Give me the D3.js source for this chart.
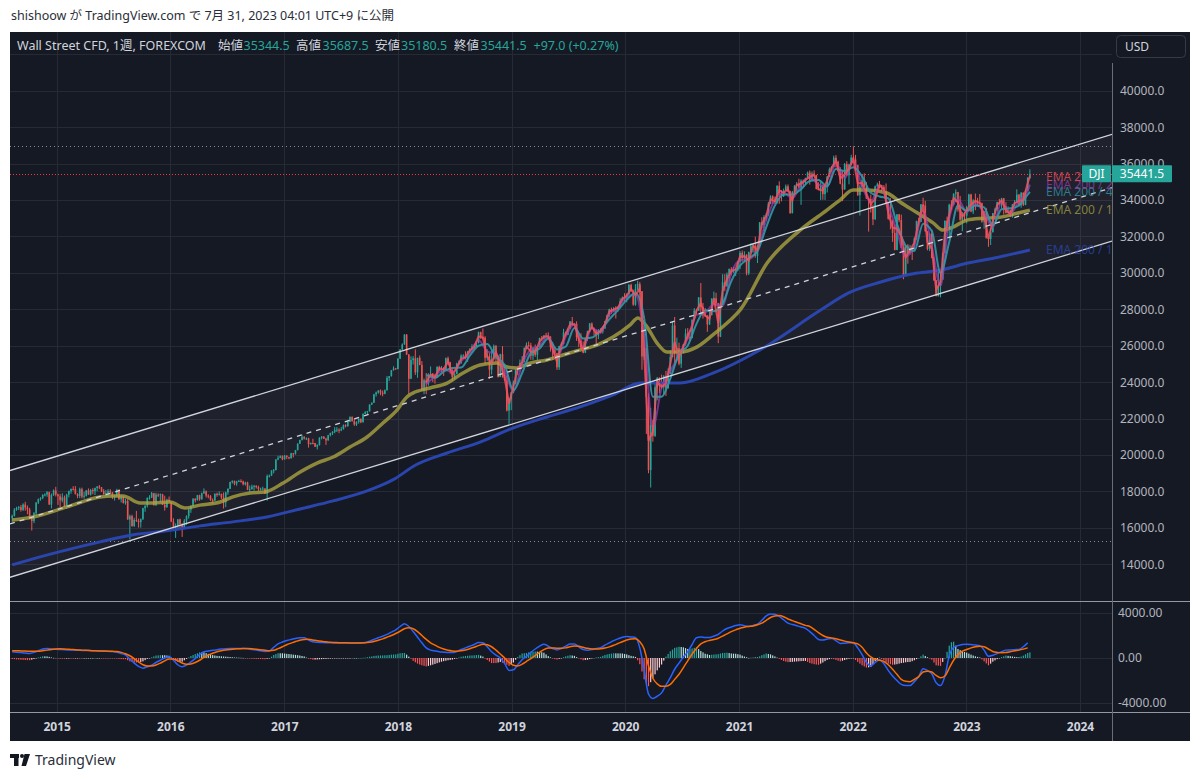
<!DOCTYPE html>
<html>
<head>
<meta charset="utf-8">
<title>Wall Street CFD 1週</title>
<script src="https://cdn.jsdelivr.net/npm/d3@7/dist/d3.min.js"></script>
<style>
  html, body { margin: 0; padding: 0; background: #ffffff; }
  svg { display: block; }
</style>
</head>
<body>
<svg id="chart" width="1200" height="779"></svg>
<script>
// ---- 週足 終値 (1本目 = 2014-08-11 の週) ----
const firstOpen = 16550;
const close2014 = [16663,17001,17098,17137,16988,17280,17113,17009,16544,16380,16805,17391,17573,17634,17810,17828,17959,17281,17805,18053,17833];
const close2015 = [17737,17511,17672,17165,17824,18019,18140,18133,17856,17749,18128,17713,17763,18057,17826,18080,18024,18191,18272,18232,18011,17849,17898,18015,17947,17730,17760,18086,17568,17690,17373,17477,16460,16643,16102,16433,16385,16315,16472,17084,17216,17647,17664,17910,17245,17824,17798,17848,17265,17128,17553,17425];
const close2016 = [16346,15988,16094,16466,16205,15974,16392,16640,17006,17213,17602,17516,17793,17577,17898,18004,17774,17740,17535,17501,17873,17807,17865,17675,17400,17949,18147,18517,18571,18432,18543,18577,18553,18395,18492,18085,18124,18262,18308,18240,18138,18146,18161,17888,18848,18868,19153,19171,19757,19843,19934,19763];
const close2017 = [19964,19886,19827,20094,20071,20269,20624,20822,21006,20903,20915,20597,20663,20656,20453,20548,20941,21007,20897,20805,21080,21206,21272,21384,21395,21350,21414,21638,21580,21830,22092,21858,21675,21814,21988,21798,22268,22350,22405,22774,22871,23329,23434,23539,23422,23358,23558,24232,24329,24651,24754,24719];
const close2018 = [25296,25803,26072,26617,25521,24191,25219,25310,24538,25336,24947,23533,24103,23933,24360,24463,24311,24263,24831,24715,24753,24635,25317,25090,24581,24271,24456,25019,25058,25451,25463,25313,25669,25790,25965,25917,26155,26744,26458,26447,25340,25444,24688,25271,25989,25413,24286,25538,24389,24101,22445,23062,23433];
const close2019 = [23996,24706,24737,25064,25106,25883,26031,26026,25450,25849,25502,25929,26425,26412,26559,26543,26505,25942,25764,25586,24815,25984,26090,26719,26600,26922,27332,27154,27192,26485,26287,25886,25629,26403,26797,27220,26935,26820,26573,26817,26770,26958,27347,27681,28005,27876,28051,28015,28135,28455,28645,28634];
const close2020 = [28823,29348,28990,28256,29103,29398,28992,25409,25864,23185,19174,21636,21053,23719,24242,23775,23724,24331,23685,24465,25383,27111,25606,25871,25016,25827,26075,26672,26470,26428,27433,27931,27930,28654,28133,27666,27657,27174,27683,28587,28606,28336,26502,28323,29480,29263,29910,30218,30046,30179,30200,30606];
const close2021 = [31098,30814,30997,29983,31148,31458,31494,30932,31496,32779,32628,33073,33153,33801,34200,34043,33875,34778,34382,34208,34529,34756,34480,33290,34433,34786,34870,34687,35062,34935,35208,35515,35120,35455,35369,34607,34584,34798,34326,34746,35295,35677,35820,36328,36100,35602,34899,34580,35971,35365,35950,36338];
const close2022 = [36231,35912,34265,34725,35089,34738,34079,34059,33615,32944,34755,34861,34818,34721,34451,33811,32977,32899,32197,31262,33213,32900,31393,29888,31501,31097,31338,31288,31899,32845,32803,33761,33706,32283,31318,32151,30822,29590,28726,29297,29635,31082,32861,32403,33748,33746,34347,34430,33477,32920,33204,33147];
const close2023 = [33631,34303,33375,33978,33926,33869,33827,32817,33391,31910,31862,32238,33274,33485,33886,33809,34098,33674,33300,33427,33093,33762,33877,34299,33727,34408,33734,34509,35228,35441.5];

// 上ヒゲ (実体上端から高値まで)
const up2014 = [60,80,60,60,120,70,150,120,90,80,60,20,40,50,40,70,60,30,80,60,200];
const up2015 = [50,130,228,100,50,30,20,150,160,50,80,80,220,20,110,60,100,20,20,80,10,120,180,110,110,20,60,60,40,100,50,130,100,80,80,120,500,120,40,20,20,20,130,60,10,100,70,40,20,500,50,170];
const up2016 = [10,180,150,20,40,50,90,50,50,20,20,20,20,30,40,160,50,70,60,80,20,60,140,20,270,30,20,20,40,30,40,60,90,40,40,40,200,110,50,30,80,60,100,20,80,60,10,60,10,120,50,50];
const up2017 = [40,20,20,30,20,10,20,20,110,20,50,30,20,230,10,40,40,30,30,50,30,20,40,150,140,70,130,40,50,100,30,30,160,40,30,20,10,60,20,10,20,30,50,20,60,120,40,100,10,20,120,30];
const up2018 = [10,10,60,10,20,20,200,120,490,10,130,210,100,400,130,400,40,150,50,70,130,70,40,90,20,130,30,50,140,80,70,230,50,80,120,90,60,30,30,490,80,360,150,500,80,50,60,20,440,450,250,80,40];
const up2019 = [90,20,90,180,330,20,150,200,130,90,220,20,20,110,20,150,190,10,250,170,20,20,100,210,60,30,30,250,30,150,30,400,350,20,30,30,60,70,80,100,140,70,20,20,30,90,70,120,40,150,60,240];
const up2020 = [50,30,60,80,280,170,100,10,1238,40,200,960,300,190,40,20,640,60,290,300,370,240,469,570,300,20,20,270,300,200,10,140,80,20,790,220,410,20,200,20,370,300,20,40,450,450,110,20,100,150,70,30];
const up2021 = [95,130,190,30,20,180,140,500,30,10,270,100,120,100,60,60,150,40,250,160,100,100,100,30,70,30,120,300,80,70,20,50,110,120,180,20,370,220,40,70,30,110,50,110,140,60,200,720,60,160,50,150];
const up2022 = [614,250,20,120,300,380,250,20,240,150,40,100,190,20,100,460,100,1140,10,460,20,20,300,20,20,80,200,70,50,20,170,20,370,250,10,20,230,30,20,780,465,20,20,230,50,240,20,160,20,750,140,130];
const up2023 = [50,40,40,70,380,200,460,30,20,180,80,200,20,90,20,180,20,20,210,220,50,20,130,290,30,20,10,80,20,246];

// 下ヒゲ (実体下端から安値まで)
const dn2014 = [220,40,60,120,100,60,170,260,10,525,120,150,80,80,60,80,120,20,213,50,110];
const dn2015 = [475,375,111,29,130,150,140,80,20,120,120,100,110,40,10,50,180,220,180,100,40,30,120,120,60,150,230,50,20,170,40,100,10,1090,40,50,60,300,300,30,200,100,100,30,20,40,110,400,10,180,20,20];
const dn2016 = [30,40,538,150,280,470,20,230,130,180,40,120,10,90,40,30,110,120,50,170,30,100,30,100,337,260,130,20,80,90,120,20,70,60,70,10,120,20,220,80,120,100,80,20,390,80,10,160,10,40,10,50];
const dn2017 = [20,110,60,30,200,50,10,10,20,50,80,190,20,70,10,150,30,80,20,250,20,60,110,80,120,150,40,10,60,20,10,20,70,80,90,50,10,20,100,20,30,10,120,70,140,130,20,20,170,20,10,30];
const dn2018 = [10,30,50,20,30,831,20,250,140,300,20,20,190,590,120,10,300,340,30,100,150,290,20,160,120,190,90,20,80,60,140,60,200,70,50,140,20,30,80,110,340,160,510,270,20,300,30,10,140,10,50,733,600];
const dn2019 = [40,120,320,110,170,30,70,100,220,230,110,290,20,140,60,40,100,260,540,130,140,140,20,20,70,10,20,30,30,220,360,50,20,30,140,10,20,250,500,210,100,100,40,20,100,120,20,520,140,20,20,190];
const dn2020 = [250,20,20,60,60,70,30,728,183,2030,174,960,320,60,720,380,100,380,440,50,20,20,550,460,90,230,250,70,130,160,20,20,210,20,440,170,30,410,30,10,200,150,360,30,80,270,20,380,180,40,350,100];
const dn2021 = [400,200,190,120,100,20,340,100,390,100,170,330,230,20,20,250,90,70,590,280,40,30,50,50,30,40,360,40,950,240,50,20,270,30,100,20,20,580,310,320,330,20,120,20,310,20,30,640,20,30,500,20];
const dn2022 = [20,300,30,1115,100,20,20,1790,300,320,30,40,180,250,30,20,50,500,490,20,10,110,20,235,20,590,90,580,20,90,150,20,60,10,80,120,20,20,10,20,637,10,10,200,440,290,30,450,120,60,630,280];
const dn2023 = [430,20,40,140,480,200,60,60,390,20,430,330,20,50,80,110,280,470,30,40,20,60,90,20,30,150,60,20,20,50];

// ---- EMA 200 / 1日 (黄) と EMA 200 / 1週 (青): 読み取り点 ----
const yellowDates = ["2014-08-11","2014-10-17","2015-02-03","2015-05-20","2015-07-01","2015-08-02","2015-09-26","2015-11-06","2015-12-31","2016-02-17","2016-04-05","2016-06-09","2016-07-20","2016-09-13","2016-10-31","2016-12-28","2017-02-21","2017-04-16","2017-06-07","2017-07-31","2017-09-24","2017-11-14","2017-12-29","2018-01-30","2018-02-18","2018-04-14","2018-06-08","2018-07-29","2018-09-22","2018-11-15","2018-12-18","2019-01-18","2019-03-01","2019-04-25","2019-06-15","2019-08-09","2019-10-02","2019-11-23","2020-01-17","2020-02-11","2020-03-11","2020-04-12","2020-05-14","2020-06-25","2020-08-19","2020-10-09","2020-12-03","2021-01-04","2021-04-01","2021-07-16","2021-10-10","2021-11-21","2022-01-02","2022-02-16","2022-04-21","2022-06-02","2022-07-27","2022-09-16","2022-10-18","2022-11-19","2023-01-03","2023-02-24","2023-04-19","2023-06-13","2023-07-24"];
const yellowVals = [16430,16600,17150,17700,17750,17750,17370,17370,17420,17090,17250,17420,17700,17910,17970,18460,19070,19560,19890,20440,20990,21760,22470,23190,23400,23680,23950,24500,24940,25050,24830,24780,25050,25220,25490,25770,26040,26480,27150,27530,27040,26160,25660,25660,25940,26600,27400,27960,30540,32350,33450,34000,34550,34550,34390,33890,33300,32750,32350,32520,32900,33000,33060,33280,33450];
const blueDates = ["2014-08-11","2014-10-17","2015-02-03","2015-05-20","2015-09-04","2015-12-22","2016-04-05","2016-07-20","2016-11-06","2017-02-21","2017-06-07","2017-09-24","2017-11-04","2017-12-17","2018-02-27","2018-06-08","2018-09-22","2019-01-05","2019-04-25","2019-08-09","2019-11-23","2020-02-19","2020-06-25","2020-10-09","2021-03-09","2021-09-20","2021-12-17","2022-04-01","2022-07-27","2022-10-11","2023-01-06","2023-04-01","2023-07-24"];
const blueVals = [13970,14300,14790,15230,15620,15840,16110,16330,16600,17040,17480,18030,18300,18650,19450,20110,20710,21480,22090,22640,23300,23960,23960,24500,25770,27960,28890,29500,29990,30160,30540,30820,31260];

// ---- 短期 EMA (2018-04 以降): 赤 = 2週ごと, 紫/青緑 = 4週ごと, 最後は最新週 ----
const redVals = [24000,24420,24280,24760,24680,25180,24400,24790,25290,25370,
  25740,25940,26510,26450,25400,25040,25640,25040,24220,22820,
  23770,24730,25090,25970,25680,25640,26230,26500,26520,25840,
  25120,26050,26650,27170,27180,26370,25730,26640,27050,26670,
  26790,27190,27880,27980,28090,28570,28750,29130,28760,29150,
  25680,20780,21290,24030,23740,23940,25020,26210,25360,25980,
  26550,27030,27930,28340,27660,27480,28600,27240,29020,29650,
  30120,30190,30900,30920,30680,31480,31270,32690,33120,34040,
  33940,34540,34400,34590,33980,34840,34910,35100,35280,35400,
  34590,34520,35080,35760,36190,35180,35420,35720,36270,34920,
  34940,34340,33790,34030,34840,34560,33310,32480,32430,32000,
  30860,31240,31660,32820,33730,31700,31350,29070,29500,32150,
  33210,34110,33860,33090,33440,33750,33950,33840,33160,31880,
  32860,33730,33980,33450,33230,33830,33960,34000,34940,35300];
const purpleVals = [23900,24330,24700,24550,25150,25600,26300,25700,25550,24600,
  23500,24980,25800,26000,26520,25300,26500,27200,25900,26980,
  26720,27700,28070,28700,28800,26500,21500,23700,24600,25500,
  26400,27700,27800,28300,28200,30000,30700,30750,31300,32900,
  34000,34400,34100,34850,35250,34850,34750,36050,35200,36150,
  34750,33900,34800,33700,32300,30900,31500,33400,31450,29300,
  33000,34050,33350,33800,33300,32500,33900,33250,33950,34500,34850];
const tealVals = [24400,24240,24580,24780,24800,25460,26000,26100,25380,24950,
  23560,24500,25600,25850,26400,25800,25950,26980,26400,26450,
  26850,27450,27960,28520,28900,27500,23200,23200,24200,25550,
  26000,27200,27950,27900,28300,29550,30400,30800,31200,32500,
  33700,34300,34300,34600,35050,35100,34750,35700,35600,35800,
  35300,34400,34200,34100,32700,31500,31200,32700,32300,30000,
  31700,33700,33400,33700,33600,32600,33500,33550,33700,34300,34450];

// ---- MACD (12,26,9) 週足: ライン/シグナルは2週ごと、ヒストグラムは毎週 ----
const macdVals = [555,520,480,440,410,500,650,800,840,810,
  780,760,740,720,700,690,670,660,650,640,
  630,610,590,570,520,400,270,-100,-450,-750,
  -900,-780,-640,-400,-200,0,110,-200,-600,-780,
  -640,-350,-50,300,560,620,680,740,790,830,
  850,850,850,850,820,760,700,640,580,620,
  950,1250,1420,1550,1650,1740,1800,1790,1600,1450,
  1400,1380,1360,1345,1340,1340,1340,1340,1340,1340,
  1345,1380,1500,1650,1800,1930,2100,2300,2500,2800,
  3050,2800,2350,1850,1350,900,700,620,560,520,
  480,480,580,750,900,1050,1200,1380,1350,1000,
  550,250,0,-500,-1100,-1050,-600,-150,150,500,
  800,1050,1220,1050,850,720,850,1050,1250,1250,
  1000,750,700,750,850,920,1150,1350,1550,1700,
  1850,1920,1870,1820,900,-1100,-3200,-3600,-3400,-3100,
  -2400,-1750,-1000,-450,100,550,1200,1800,1870,1830,
  1826,1950,2100,2400,2620,2750,2880,2950,2870,2810,
  2900,3000,3350,3750,3920,3880,3700,3400,3100,2980,
  2870,2760,2640,2350,2000,1650,1600,1680,1740,1550,
  1300,1320,1350,1340,900,300,-400,-700,-400,-150,
  -500,-1100,-1600,-2000,-2350,-2450,-2450,-2100,-1650,-950,
  -1100,-1400,-2200,-2450,-1600,200,950,1100,1200,1230,
  1200,1150,1100,700,150,250,400,550,700,720,
  740,760,1000,1343];
const signalVals = [642,640,630,620,600,590,600,650,700,760,
  800,820,800,770,750,720,700,680,660,640,
  630,620,610,590,570,500,380,200,-50,-350,
  -600,-700,-700,-620,-450,-250,-90,-100,-250,-450,
  -560,-530,-400,-200,60,250,420,550,640,710,
  760,800,820,840,840,820,780,730,690,650,
  680,830,1000,1180,1320,1460,1580,1650,1660,1600,
  1530,1480,1440,1400,1380,1360,1350,1345,1340,1340,
  1340,1350,1390,1470,1580,1700,1850,2000,2180,2380,
  2600,2680,2600,2350,2000,1650,1350,1150,950,800,
  680,620,600,640,720,830,960,1100,1220,1180,
  1000,700,350,0,-400,-650,-700,-550,-300,-50,
  220,500,750,880,900,860,860,900,1000,1060,
  1040,950,860,800,800,820,880,990,1130,1290,
  1450,1600,1680,1720,1450,800,-700,-1800,-2300,-2520,
  -2520,-2350,-1900,-1450,-850,-250,350,850,1250,1450,
  1560,1640,1760,1950,2150,2350,2500,2650,2740,2800,
  2850,2950,3100,3350,3600,3740,3770,3670,3470,3320,
  3180,3040,2900,2800,2550,2250,2000,1850,1780,1720,
  1600,1500,1420,1360,1250,950,450,100,-100,-200,
  -300,-600,-1000,-1450,-1900,-2070,-2100,-1900,-1650,-1250,
  -1170,-1250,-1550,-1750,-1600,-900,-200,300,600,750,
  900,1000,1050,1000,800,580,500,470,480,560,
  640,700,790,900];
const hist2014 = [-90,-100,-120,-135,-150,-165,-180,-185,-190,-150,-90,-20,50,100,150,150,140,100,50,15,-20];
const hist2015 = [-40,-60,-60,-60,-55,-50,-50,-50,-40,-30,-30,-30,-25,-20,-15,-10,-5,0,0,0,-5,-10,-15,-20,-20,-20,-35,-50,-75,-100,-105,-110,-200,-300,-350,-400,-400,-400,-350,-300,-190,-80,-10,60,140,220,235,250,250,250,225,200];
const hist2016 = [50,-100,-220,-350,-340,-330,-200,-80,50,180,260,350,420,500,500,500,430,370,310,260,220,190,170,150,135,120,105,90,70,50,40,30,20,10,-5,-20,-40,-60,-70,-80,-85,-90,-100,-110,-70,-30,120,270,350,420,420,420];
const hist2017 = [400,370,350,330,300,280,250,220,180,140,40,-60,-100,-150,-140,-130,-115,-100,-90,-80,-65,-55,-45,-40,-30,-20,-15,-10,-8,-5,-2,0,0,0,3,5,15,30,70,110,140,180,200,220,225,230,240,250,270,300,310,320];
const hist2018 = [370,420,440,450,300,120,-60,-250,-380,-500,-580,-650,-700,-750,-700,-650,-590,-530,-460,-390,-330,-280,-240,-200,-170,-140,-80,-20,45,110,145,180,200,220,230,240,260,280,210,130,-30,-180,-320,-450,-450,-450,-400,-350,-420,-500,-600,-700,-550];
const hist2019 = [-400,-150,100,250,400,420,450,500,550,565,580,565,550,510,470,320,170,60,-50,-100,-140,-80,-10,70,150,200,250,220,190,80,-40,-120,-200,-180,-160,-100,-50,0,50,75,100,190,270,320,360,390,420,415,410,405,400,360];
const hist2020 = [320,250,190,150,100,-200,-550,-1200,-1900,-2200,-2500,-2150,-1800,-1450,-1100,-850,-580,-230,120,360,600,750,900,950,1000,980,950,880,800,820,850,900,950,790,620,500,380,330,270,290,310,330,340,400,450,460,470,440,400,390,380,340];
const hist2021 = [300,210,130,70,10,30,50,50,50,150,250,320,400,360,320,230,140,40,-70,-170,-270,-320,-370,-350,-340,-320,-310,-290,-280,-270,-260,-350,-450,-500,-550,-580,-600,-500,-400,-280,-170,-100,-40,-100,-170,-240,-300,-240,-180,-120,-70,-40];
const hist2022 = [-20,-180,-350,-500,-650,-750,-850,-830,-800,-550,-300,-120,50,-80,-200,-350,-500,-550,-600,-580,-550,-500,-450,-420,-380,-360,-350,-280,-200,-100,0,150,300,180,70,-40,-150,-400,-650,-680,-700,-350,0,550,1100,1400,1450,1100,800,700,600,540];
const hist2023 = [480,390,300,220,150,100,50,-120,-300,-480,-650,-500,-330,-210,-100,-10,80,150,220,190,160,130,100,80,60,130,210,330,443,500];

// ---- 平行チャネル (2点) と水平線 ----
const channelDates = ["2014-08-10", "2024-04-11"];
const channelUpper = [19180, 37600];
const channelLower = [13320, 31740];
const hLevels = [36950, 15280];

// ---- 目盛 ----
const priceTicks = [14000,16000,18000,20000,22000,24000,26000,28000,30000,32000,34000,36000,38000,40000];
const priceGrid = [14000,16000,18000,20000,22000,24000,26000,28000,30000,32000,34000,36000,38000,40000,42000];
const macdTicks = [-4000, 0, 4000];
const yearTicks = [2015,2016,2017,2018,2019,2020,2021,2022,2023,2024];

// ---- テキスト ----
const headerText = "shishoow が TradingView.com で 7月 31, 2023 04:01 UTC+9 に公開";
const legendText = ["Wall Street CFD, 1週, FOREXCOM", "始値", "35344.5", "高値", "35687.5", "安値", "35180.5", "終値", "35441.5", "+97.0 (+0.27%)"];
const emaNames = ["EMA 200 / 1週", "EMA 200 / 1日", "EMA 200 / 4時間", "EMA 200 / 2時間", "EMA 200 / 1時間"];

// =====================================================================
const FONT = "'Noto Sans','Noto Sans CJK JP',sans-serif";
const BG = "#151924", GRID = "#262a35", UP = "#26a69a", DN = "#ef5350";
const C_BLUE = "#2b48b5", C_YEL = "#aaa240", C_TEAL = "#3399a8", C_PUR = "#9c3fb0", C_RED = "#f0505f";
const FR = { x0: 10, x1: 1190, y0: 32, y1: 741 };
const AX = 1112;
const MAIN = { y0: 32, y1: 601 };
const MAC = { y0: 601, y1: 712 };

const svg = d3.select("#chart");
const parse = d3.timeParse("%Y-%m-%d");

const x = d3.scaleTime().domain([new Date(2015, 0, 1), new Date(2024, 0, 1)]).range([56.7, 1080]);
const y = d3.scaleLinear().domain([14000, 40000]).range([564.3, 90.8]);
const ym = d3.scaleLinear().domain([-4000, 4000]).range([703, 613]);

const weeks = d3.timeMonday.range(new Date(2014, 7, 11), new Date(2023, 6, 25));
const closes = [].concat(close2014, close2015, close2016, close2017, close2018, close2019, close2020, close2021, close2022, close2023);
const wickUp = [].concat(up2014, up2015, up2016, up2017, up2018, up2019, up2020, up2021, up2022, up2023);
const wickDn = [].concat(dn2014, dn2015, dn2016, dn2017, dn2018, dn2019, dn2020, dn2021, dn2022, dn2023);
const hist = [].concat(hist2014, hist2015, hist2016, hist2017, hist2018, hist2019, hist2020, hist2021, hist2022, hist2023);
const n = Math.min(weeks.length, closes.length);

// 始値は前週の終値
const bars = d3.range(n).map(i => {
  const o = i ? closes[i - 1] : firstOpen, c = closes[i];
  return { t: weeks[i], o, c, h: Math.max(o, c) + (wickUp[i] || 0), l: Math.min(o, c) - (wickDn[i] || 0) };
});
const last = bars[n - 1];

// clip
const defs = svg.append("defs");
defs.append("clipPath").attr("id", "clipMain").append("rect")
  .attr("x", FR.x0).attr("y", MAIN.y0).attr("width", AX - FR.x0).attr("height", MAIN.y1 - MAIN.y0);
defs.append("clipPath").attr("id", "clipMacd").append("rect")
  .attr("x", FR.x0).attr("y", MAC.y0).attr("width", AX - FR.x0).attr("height", MAC.y1 - MAC.y0);

// header
svg.append("text").attr("x", 11).attr("y", 20).attr("font-family", FONT).attr("font-size", 12.5)
  .attr("fill", "#2a2e39").text(headerText);

// dark chart area
svg.append("rect").attr("x", FR.x0).attr("y", FR.y0).attr("width", FR.x1 - FR.x0).attr("height", FR.y1 - FR.y0)
  .attr("fill", BG);

// grid
const gGrid = svg.append("g").attr("stroke", GRID).attr("stroke-width", 1);
gGrid.selectAll("line.h").data(priceGrid).join("line").attr("class", "h")
  .attr("x1", FR.x0).attr("x2", AX).attr("y1", d => Math.round(y(d)) + 0.5).attr("y2", d => Math.round(y(d)) + 0.5);
gGrid.selectAll("line.m").data(macdTicks).join("line").attr("class", "m")
  .attr("x1", FR.x0).attr("x2", AX).attr("y1", d => Math.round(ym(d)) + 0.5).attr("y2", d => Math.round(ym(d)) + 0.5);
gGrid.selectAll("line.v").data(yearTicks).join("line").attr("class", "v")
  .attr("x1", d => Math.round(x(new Date(d, 0, 1))) + 0.5).attr("x2", d => Math.round(x(new Date(d, 0, 1))) + 0.5)
  .attr("y1", FR.y0).attr("y2", MAC.y1);

// parallel channel
const chT = d3.scaleTime().domain(channelDates.map(parse));
const upAt = chT.copy().range(channelUpper), loAt = chT.copy().range(channelLower);
const tL = x.invert(FR.x0), tR = x.invert(AX);
const gMain = svg.append("g").attr("clip-path", "url(#clipMain)");
gMain.append("path")
  .attr("d", d3.area().x(d => x(d)).y0(d => y(loAt(d))).y1(d => y(upAt(d)))([tL, tR]))
  .attr("fill", "rgba(255,255,255,0.045)");

// horizontal dotted levels
gMain.selectAll("line.lvl").data(hLevels).join("line").attr("class", "lvl")
  .attr("x1", FR.x0).attr("x2", AX).attr("y1", d => Math.round(y(d)) + 0.5).attr("y2", d => Math.round(y(d)) + 0.5)
  .attr("stroke", "#8a8d97").attr("stroke-width", 1).attr("stroke-dasharray", "1,3");

// candles
const gC = gMain.append("g");
gC.selectAll("line.wick").data(bars).join("line").attr("class", "wick")
  .attr("x1", d => x(d.t)).attr("x2", d => x(d.t))
  .attr("y1", d => y(d.h)).attr("y2", d => y(d.l))
  .attr("stroke", d => d.c >= d.o ? UP : DN).attr("stroke-width", 1);
gC.selectAll("rect.body").data(bars).join("rect").attr("class", "body")
  .attr("x", d => x(d.t) - 0.8).attr("width", 1.6)
  .attr("y", d => y(Math.max(d.o, d.c)))
  .attr("height", d => Math.max(1, Math.abs(y(d.o) - y(d.c))))
  .attr("fill", d => d.c >= d.o ? UP : DN);

// EMA lines
const lineT = d3.line().x(d => x(d.t)).y(d => y(d.v)).curve(d3.curveMonotoneX);
const byDate = (ds, vs) => ds.map((d, i) => ({ t: parse(d), v: vs[i] }));
const byIdx = (idx, vs) => idx.map((k, i) => ({ t: weeks[k], v: vs[i] })).filter(d => d.t);
const idx2 = d3.range(190, 467, 2).concat([467]);
const idx4 = d3.range(190, 467, 4).concat([467]);
const sBlue = byDate(blueDates, blueVals);
const sYel = byDate(yellowDates, yellowVals);
const sPur = byIdx(idx4, purpleVals);
const sTeal = byIdx(idx4, tealVals);
const sRed = byIdx(idx2, redVals);

gMain.append("path").attr("d", lineT(sBlue)).attr("fill", "none").attr("stroke", C_BLUE).attr("stroke-width", 3).attr("stroke-opacity", 0.95);
gMain.append("path").attr("d", lineT(sYel)).attr("fill", "none").attr("stroke", C_YEL).attr("stroke-width", 3.5).attr("stroke-opacity", 0.8);
gMain.append("path").attr("d", lineT(sPur)).attr("fill", "none").attr("stroke", C_PUR).attr("stroke-width", 2).attr("stroke-opacity", 0.7);
gMain.append("path").attr("d", lineT(sTeal)).attr("fill", "none").attr("stroke", C_TEAL).attr("stroke-width", 2).attr("stroke-opacity", 0.9);
gMain.append("path").attr("d", d3.line().x(d => x(d.t)).y(d => y(d.v))(sRed)).attr("fill", "none").attr("stroke", C_RED).attr("stroke-width", 2).attr("stroke-opacity", 0.85);

// channel lines
const chanLine = (f) => d3.line().x(d => x(d)).y(d => y(f(d)))([tL, tR]);
gMain.append("path").attr("d", chanLine(upAt)).attr("stroke", "#d1d4dc").attr("stroke-width", 1.3).attr("fill", "none");
gMain.append("path").attr("d", chanLine(loAt)).attr("stroke", "#d1d4dc").attr("stroke-width", 1.3).attr("fill", "none");
gMain.append("path").attr("d", chanLine(t => (upAt(t) + loAt(t)) / 2)).attr("stroke", "#d1d4dc").attr("stroke-width", 1.3)
  .attr("stroke-dasharray", "5,5").attr("fill", "none");

// last price line
gMain.append("line").attr("x1", FR.x0).attr("x2", AX)
  .attr("y1", Math.round(y(last.c)) + 0.5).attr("y2", Math.round(y(last.c)) + 0.5)
  .attr("stroke", "#f23645").attr("stroke-width", 1).attr("stroke-dasharray", "1,2");

// EMA labels next to last values
const emaLast = [sBlue, sYel, sTeal, sPur, sRed].map(s => s[s.length - 1].v);
const emaCol = [C_BLUE, C_YEL, C_TEAL, C_PUR, C_RED];
const labelOrder = [0, 1, 2, 3, 4];
gMain.selectAll("text.ema").data(labelOrder).join("text").attr("class", "ema")
  .attr("x", 1046).attr("y", k => y(emaLast[k])).attr("dy", "0.35em")
  .attr("font-family", FONT).attr("font-size", 12)
  .attr("fill", k => emaCol[k]).attr("fill-opacity", 0.75)
  .text(k => emaNames[k]);

// MACD pane
const gM = svg.append("g").attr("clip-path", "url(#clipMacd)");
const histColor = (v, p) => v >= 0 ? (v > p ? "#26a69a" : "#b2dfdb") : (v > p ? "#ffcdd2" : "#ff5252");
gM.selectAll("rect.hist").data(d3.range(Math.min(n, hist.length))).join("rect").attr("class", "hist")
  .attr("x", i => x(weeks[i]) - 0.6).attr("width", 1.2)
  .attr("y", i => Math.min(ym(0), ym(hist[i])))
  .attr("height", i => Math.max(0.5, Math.abs(ym(hist[i]) - ym(0))))
  .attr("fill", i => histColor(hist[i], i ? hist[i - 1] : 0));
const macdIdx = d3.range(0, 468, 2);
const lineM = d3.line().x(d => x(d.t)).y(d => ym(d.v)).curve(d3.curveMonotoneX);
gM.append("path").attr("d", lineM(byIdx(macdIdx, macdVals))).attr("fill", "none").attr("stroke", "#2962ff").attr("stroke-width", 1.5);
gM.append("path").attr("d", lineM(byIdx(macdIdx, signalVals))).attr("fill", "none").attr("stroke", "#ff6d00").attr("stroke-width", 1.5);

// separators
const gSep = svg.append("g").attr("stroke", "#9598a1").attr("stroke-width", 1);
gSep.append("line").attr("x1", FR.x0).attr("x2", FR.x1).attr("y1", MAIN.y1 + 0.5).attr("y2", MAIN.y1 + 0.5);
gSep.append("line").attr("x1", FR.x0).attr("x2", FR.x1).attr("y1", MAC.y1 + 0.5).attr("y2", MAC.y1 + 0.5);
gSep.append("line").attr("x1", AX + 0.5).attr("x2", AX + 0.5).attr("y1", 63).attr("y2", FR.y1).attr("stroke", "#6a6d78");

// axes
const styleAxis = (g, size, weight, fill) => {
  g.select(".domain").remove();
  g.selectAll(".tick line").remove();
  g.attr("font-family", FONT).attr("font-size", size);
  g.selectAll("text").attr("fill", fill).attr("font-weight", weight);
};
svg.append("g").attr("transform", `translate(${AX},0)`)
  .call(d3.axisRight(y).tickValues(priceTicks).tickFormat(d => d.toFixed(1)).tickSize(0).tickPadding(8))
  .call(g => styleAxis(g, 12, 400, "#b2b5be"));
svg.append("g").attr("transform", `translate(${AX},0)`)
  .call(d3.axisRight(ym).tickValues(macdTicks).tickFormat(d => d.toFixed(2)).tickSize(0).tickPadding(6))
  .call(g => styleAxis(g, 12, 400, "#b2b5be"));
svg.append("g").attr("transform", `translate(0,${MAC.y1})`)
  .call(d3.axisBottom(x).tickValues(yearTicks.map(v => new Date(v, 0, 1))).tickFormat(d3.timeFormat("%Y")).tickSize(0).tickPadding(10))
  .call(g => styleAxis(g, 12, 700, "#d1d4dc"));

// symbol / last price label
const yL = y(last.c);
svg.append("rect").attr("x", 1082).attr("y", yL - 8.5).attr("width", 29).attr("height", 17).attr("rx", 1).attr("fill", UP);
svg.append("text").attr("x", 1096.5).attr("y", yL).attr("dy", "0.35em").attr("text-anchor", "middle")
  .attr("font-family", FONT).attr("font-size", 12).attr("fill", "#ffffff").text("DJI");
svg.append("rect").attr("x", 1112).attr("y", yL - 8.5).attr("width", 60).attr("height", 17).attr("rx", 1).attr("fill", UP);
svg.append("text").attr("x", 1142).attr("y", yL).attr("dy", "0.35em").attr("text-anchor", "middle")
  .attr("font-family", FONT).attr("font-size", 12).attr("fill", "#ffffff").text(d3.format(".1f")(last.c));

// USD button
svg.append("rect").attr("x", 1116.5).attr("y", 35.5).attr("width", 69).attr("height", 22).attr("rx", 4)
  .attr("fill", "none").attr("stroke", "#363a45");
svg.append("text").attr("x", 1125).attr("y", 46.5).attr("dy", "0.35em").attr("font-family", FONT).attr("font-size", 12)
  .attr("fill", "#d1d4dc").text("USD");

// legend row
const legendX = [17, 218, 243.5, 296, 322.5, 375, 401, 454, 480.5, 533.5];
const legendVal = [false, false, true, false, true, false, true, false, true, true];
svg.append("g").selectAll("text").data(legendText).join("text")
  .attr("x", (d, i) => legendX[i]).attr("y", 46).attr("dy", "0.35em")
  .attr("font-family", FONT).attr("font-size", 12.5)
  .attr("fill", (d, i) => legendVal[i] ? "#26a69a" : "#d1d4dc").text(d => d);

// footer logo
const gLogo = svg.append("g").attr("fill", "#131722");
gLogo.append("rect").attr("x", 10).attr("y", 754).attr("width", 9).attr("height", 4);
gLogo.append("rect").attr("x", 14).attr("y", 754).attr("width", 4.5).attr("height", 12);
gLogo.append("circle").attr("cx", 22).attr("cy", 756).attr("r", 2);
gLogo.append("path").attr("d", "M24.5,754 L30,754 L26,766 L21.5,766 Z");
svg.append("text").attr("x", 35).attr("y", 760).attr("dy", "0.35em").attr("font-family", FONT).attr("font-size", 14)
  .attr("fill", "#2a2e39").text("TradingView");
</script>
</body>
</html>
